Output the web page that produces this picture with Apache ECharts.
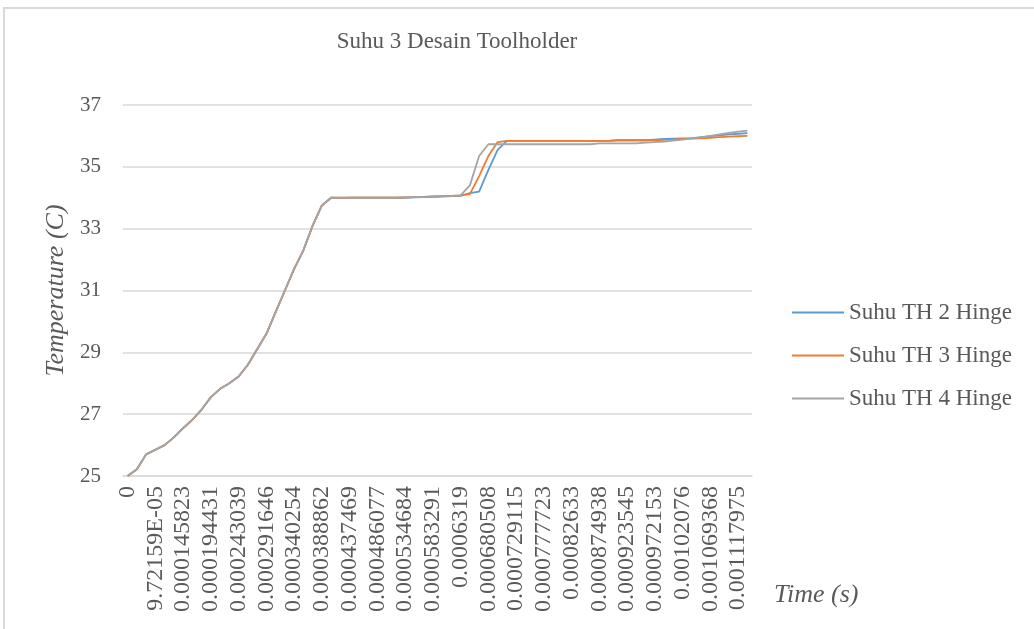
<!DOCTYPE html>
<html>
<head>
<meta charset="utf-8">
<title>Suhu 3 Desain Toolholder</title>
<script src="https://cdn.jsdelivr.net/npm/echarts@6/dist/echarts.min.js"></script>
<style>
  html, body { margin: 0; padding: 0; background: #fff; }
  #chart { width: 1034px; height: 629px; }
</style>
</head>
<body>
<div id="chart"></div>
<script>
// waktu simulasi (sumbu x, kategori)
const timeLabels = [
  '0', '3.24051E-05', '6.48102E-05', '9.72159E-05', '0.000113418', '0.00012962', '0.000145823', '0.000162025', '0.000178228', '0.000194431',
  '0.000210633', '0.000226836', '0.000243039', '0.000259241', '0.000275444', '0.000291646', '0.000307849', '0.000324051', '0.000340254', '0.000356457',
  '0.000372659', '0.000388862', '0.000405064', '0.000421267', '0.000437469', '0.000453672', '0.000469874', '0.000486077', '0.000502279', '0.000518482',
  '0.000534684', '0.000550887', '0.000567089', '0.000583291', '0.000599494', '0.000615697', '0.0006319', '0.000648102', '0.000664305', '0.000680508',
  '0.00069671', '0.000712912', '0.000729115', '0.000745317', '0.00076152', '0.000777723', '0.000793925', '0.000810127', '0.00082633', '0.000842532',
  '0.000858735', '0.000874938', '0.00089114', '0.000907343', '0.000923545', '0.000939748', '0.00095595', '0.000972153', '0.000988355', '0.001004558',
  '0.00102076', '0.001036963', '0.001053165', '0.001069368', '0.00108557', '0.001101773', '0.001117975', '0.001134178'
]

// suhu tiap desain toolholder (C)
const suhuTH2 = [
  25.0, 25.22, 25.7, 25.85, 26.0, 26.25, 26.55, 26.82, 27.15, 27.55, 27.82, 28.0, 28.22, 28.6, 29.1, 29.6, 30.3, 31.0, 31.7, 32.3, 33.1, 33.75,
  34.0, 33.99, 34.0, 34.0, 34.0, 34.0, 34.0, 34.0, 34.0, 34.01, 34.02, 34.03, 34.04, 34.05, 34.06,
  34.15, 34.2, 34.9, 35.55, 35.84,
  35.84, 35.84, 35.84, 35.84, 35.84, 35.84, 35.84, 35.84, 35.84, 35.84, 35.84,
  35.86, 35.86, 35.86, 35.86,
  35.88, 35.9, 35.91, 35.92, 35.93, 35.96, 35.99, 36.02, 36.05, 36.07, 36.09
]
const suhuTH3 = [
  25.0, 25.22, 25.7, 25.85, 26.0, 26.25, 26.55, 26.82, 27.15, 27.55, 27.82, 28.0, 28.22, 28.6, 29.1, 29.6, 30.3, 31.0, 31.7, 32.3, 33.1, 33.75,
  34.0, 34.0, 34.0, 34.0, 34.0, 34.0, 34.0, 34.0, 34.01, 34.02, 34.03, 34.04, 34.05, 34.06, 34.08,
  34.12, 34.7, 35.35, 35.8, 35.84,
  35.84, 35.84, 35.84, 35.84, 35.84, 35.84, 35.84, 35.84, 35.84, 35.84, 35.84,
  35.86, 35.86, 35.86, 35.86, 35.86,
  35.87, 35.88, 35.9, 35.91, 35.92, 35.94, 35.96, 35.98, 35.99, 36.0
]
const suhuTH4 = [
  25.0, 25.22, 25.7, 25.85, 26.0, 26.25, 26.55, 26.82, 27.15, 27.55, 27.82, 28.0, 28.22, 28.6, 29.1, 29.6, 30.3, 31.0, 31.7, 32.3, 33.1, 33.75,
  34.0, 34.0, 34.0, 34.0, 34.0, 34.0, 34.0, 34.0, 34.01, 34.02, 34.03, 34.04, 34.05, 34.06, 34.08,
  34.4, 35.35, 35.73,
  35.73, 35.73, 35.73, 35.73, 35.73, 35.73, 35.73, 35.73, 35.73, 35.73, 35.73,
  35.76, 35.76, 35.76, 35.76, 35.76,
  35.78, 35.8, 35.82, 35.85, 35.88, 35.92, 35.95, 36.0, 36.05, 36.1, 36.14, 36.17
]

const seriesNames = ['Suhu TH 2 Hinge', 'Suhu TH 3 Hinge', 'Suhu TH 4 Hinge']
const seriesColors = ['#5B9BD5', '#ED7D31', '#A5A5A5']

const serif = '"Liberation Serif", "DejaVu Serif", serif'
const textColor = '#595959'

const chartInstance = echarts.init(document.getElementById('chart'))

const option = {
  backgroundColor: '#fff',
  animation: false,
  color: seriesColors,
  title: {
    text: 'Suhu 3 Desain Toolholder',
    left: 452,
    top: 25,
    textAlign: 'center',
    textStyle: { fontFamily: serif, fontWeight: 'normal', fontSize: 23, color: textColor }
  },
  // bingkai chart seperti di Excel
  graphic: [{
    type: 'rect',
    shape: { x: 4, y: 8, width: 1100, height: 700 },
    style: { fill: null, stroke: '#d9d9d9', lineWidth: 2 },
    silent: true
  }],
  legend: {
    orient: 'vertical',
    left: 787,
    top: 296,
    itemWidth: 52,
    itemHeight: 2,
    itemGap: 20,
    icon: 'rect',
    textStyle: { fontFamily: serif, fontSize: 23, color: textColor },
    data: seriesNames
  },
  grid: { left: 123, right: 282, top: 105, bottom: 153 },
  xAxis: {
    type: 'category',
    data: timeLabels,
    boundaryGap: true,
    name: 'Time (s)',
    nameLocation: 'end',
    nameGap: 22,
    nameTextStyle: {
      fontFamily: serif, fontStyle: 'italic', fontSize: 26, color: textColor,
      align: 'left', verticalAlign: 'top', padding: [106, 0, 0, 0]
    },
    axisLine: { lineStyle: { color: '#d9d9d9', width: 1.5 } },
    axisTick: { show: false },
    axisLabel: {
      interval: 2,
      rotate: 90,
      margin: 10,
      fontFamily: serif,
      fontSize: 24,
      color: textColor
    }
  },
  yAxis: {
    type: 'value',
    min: 25,
    max: 37,
    interval: 2,
    name: 'Temperature (C)',
    nameLocation: 'middle',
    nameGap: 54,
    nameTextStyle: { fontFamily: serif, fontStyle: 'italic', fontSize: 26, color: textColor },
    axisLine: { show: false },
    axisTick: { show: false },
    axisLabel: { margin: 22, fontFamily: serif, fontSize: 21, color: textColor },
    splitLine: { lineStyle: { color: '#d9d9d9', width: 1.5 } }
  },
  series: [
    { name: seriesNames[0], type: 'line', data: suhuTH2, symbol: 'none', lineStyle: { width: 1.8 } },
    { name: seriesNames[1], type: 'line', data: suhuTH3, symbol: 'none', lineStyle: { width: 1.8 } },
    { name: seriesNames[2], type: 'line', data: suhuTH4, symbol: 'none', lineStyle: { width: 1.8 } }
  ]
}

chartInstance.setOption(option)
</script>
</body>
</html>
